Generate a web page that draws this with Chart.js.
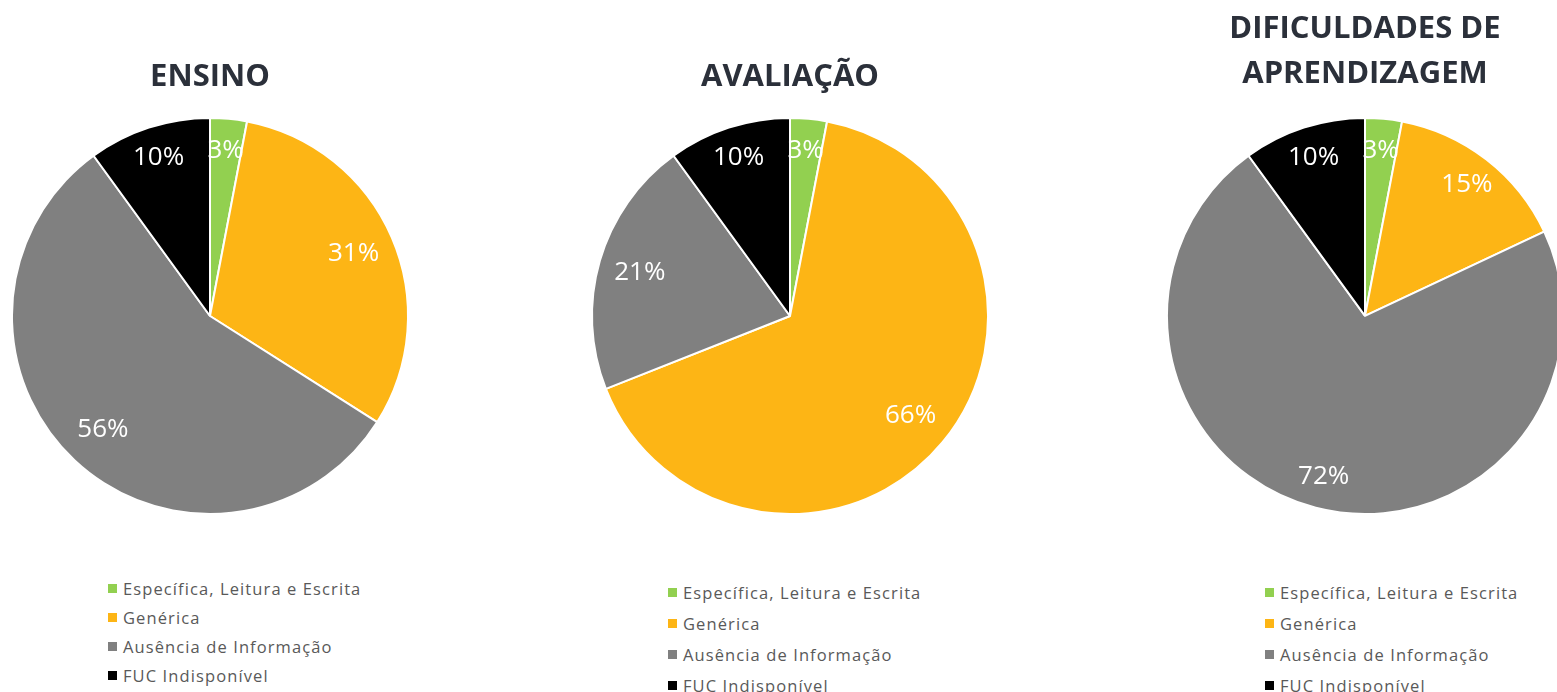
<!DOCTYPE html>
<html>
<head>
<meta charset="utf-8">
<script src="https://cdn.jsdelivr.net/npm/chart.js@4"></script>
<style>
  html, body { margin:0; padding:0; background:#fff; overflow:hidden; }
  body { width:1557px; height:692px; position:relative; }
  .box { position:absolute; top:0; width:420px; height:515px; }
  .legend { position:absolute; font-family:"Open Sans", sans-serif; font-size:16.5px; letter-spacing:1.1px; color:#595959; }
  .legend div { position:relative; padding-left:15px; white-space:nowrap; }
  .legend span { position:absolute; left:0; top:50%; width:9px; height:9px; margin-top:-5px; }
</style>
</head>
<body>

<div class="box" style="left:0"><canvas id="c0"></canvas></div>
<div class="box" style="left:580px"><canvas id="c1"></canvas></div>
<div class="box" style="left:1155px"><canvas id="c2"></canvas></div>

<div class="legend" id="l0" style="left:108px; top:574px"></div>
<div class="legend" id="l1" style="left:668px; top:577px"></div>
<div class="legend" id="l2" style="left:1265px; top:577px"></div>

<script>

// =====================================
// DADOS
// =====================================

const categorias = [
  "Específica, Leitura e Escrita",
  "Genérica",
  "Ausência de Informação",
  "FUC Indisponível"
];

const cores = [
  "#92D050",
  "#FDB515",
  "#808080",
  "#000000"
];

const titulos = [
  "ENSINO",
  "AVALIAÇÃO",
  ["DIFICULDADES DE", "APRENDIZAGEM"]
];

const ensino       = [3, 31, 56, 10];
const avaliacao    = [3, 66, 21, 10];
const dificuldades = [3, 15, 72, 10];


// =====================================
// RÓTULOS DENTRO DAS FATIAS
// =====================================

const pctLabels = {

  id:"pctLabels",

  afterDatasetsDraw(chart, args, opts){

    const ctx = chart.ctx;
    const meta = chart.getDatasetMeta(0);
    const data = chart.data.datasets[0].data;

    ctx.save();
    ctx.fillStyle = "#fff";
    ctx.font = "26px 'Open Sans', sans-serif";
    ctx.textAlign = "center";
    ctx.textBaseline = "middle";

    meta.data.forEach((arc, i) => {

      const p = arc.getProps(
        ["x","y","startAngle","endAngle","outerRadius"], true
      );

      const mid = (p.startAngle + p.endAngle) / 2;

      const ratio =
        data[i] <= 10 ? 0.84 : opts.ratio;

      const r = p.outerRadius * ratio;

      ctx.fillText(
        data[i] + "%",
        p.x + Math.cos(mid) * r,
        p.y + Math.sin(mid) * r
      );

    });

    ctx.restore();

  }

};


// =====================================
// CRIAR PIES
// =====================================

function makePie(id, titulo, valores, ratio, padTop, padBottom){

  new Chart(document.getElementById(id), {

    type:"pie",

    data:{
      labels:categorias,
      datasets:[{
        data:valores,
        backgroundColor:cores,
        borderColor:"#fff",
        borderWidth:2
      }]
    },

    options:{
      responsive:true,
      maintainAspectRatio:false,
      animation:false,
      layout:{ padding:0 },
      plugins:{
        legend:{ display:false },
        tooltip:{ enabled:false },
        title:{
          display:true,
          text:titulo,
          color:"#2B303A",
          font:{ family:"'Open Sans', sans-serif", size:31, weight:"bold", lineHeight:1.45 },
          padding:{ top:padTop, bottom:padBottom }
        },
        pctLabels:{ ratio }
      }
    },

    plugins:[pctLabels]

  });

}

makePie("c0", titulos[0], ensino, 0.79, 55, 17);
makePie("c1", titulos[1], avaliacao, 0.79, 55, 17);
makePie("c2", titulos[2], dificuldades, 0.84, 7, 20);


// =====================================
// LEGENDAS
// =====================================

function makeLegend(id, gap){

  const el = document.getElementById(id);

  categorias.forEach((nome, i) => {

    const row = document.createElement("div");
    row.style.height = gap + "px";
    row.style.lineHeight = gap + "px";

    const sw = document.createElement("span");
    sw.style.background = cores[i];

    row.appendChild(sw);
    row.appendChild(document.createTextNode(nome));
    el.appendChild(row);

  });

}

makeLegend("l0", 29);
makeLegend("l1", 31);
makeLegend("l2", 31);

</script>
</body>
</html>
